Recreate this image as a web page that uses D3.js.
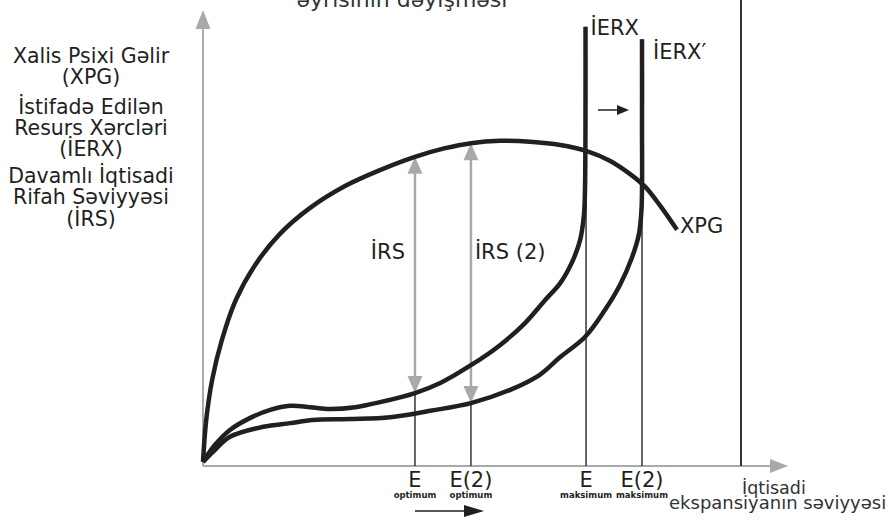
<!DOCTYPE html>
<html>
<head>
<meta charset="utf-8">
<script src="https://cdn.jsdelivr.net/npm/d3@7"></script>
<style>
  body { margin: 0; background: #fff; }
  svg { display: block; font-family: "DejaVu Sans", sans-serif; }
</style>
</head>
<body>
<svg width="894" height="520"></svg>
<script>
// curves, x = level of expansion, y = value (0..10 both)
var xpg = [[0, 0.09], [0.06, 1.01], [0.17, 1.89], [0.35, 2.76], [0.61, 3.64], [0.97, 4.41],
  [1.43, 5.09], [1.99, 5.66], [2.64, 6.14], [3.29, 6.49], [3.94, 6.78], [4.5, 6.97],
  [4.98, 7.08], [5.52, 7.13], [6.08, 7.11], [6.64, 7.04], [7.12, 6.91], [7.57, 6.69],
  [7.94, 6.4], [8.22, 6.12], [8.49, 5.72], [8.81, 5.18]];

var ierx = [[0, 0.09], [0.22, 0.46], [0.5, 0.79], [0.87, 1.05], [1.25, 1.23], [1.62, 1.32],
  [1.99, 1.29], [2.36, 1.25], [2.83, 1.29], [3.29, 1.4], [3.94, 1.6], [4.41, 1.82],
  [4.98, 2.21], [5.52, 2.65], [5.99, 3.14], [6.36, 3.64], [6.64, 4.01], [6.86, 4.47],
  [7.01, 4.96], [7.08, 5.5], [7.1, 6.05], [7.11, 8.0], [7.11, 9.63]];

var ierx2 = [[0, 0.09], [0.22, 0.35], [0.5, 0.64], [1.12, 0.86], [1.62, 0.94], [2.04, 1.01],
  [2.73, 1.03], [3.48, 1.07], [4.22, 1.21], [4.98, 1.38], [5.71, 1.67], [6.26, 2.0],
  [6.64, 2.39], [7.1, 2.83], [7.47, 3.42], [7.75, 3.97], [7.97, 4.56], [8.1, 5.07],
  [8.15, 5.61], [8.16, 7.5], [8.16, 9.36]];

var eLevels = [3.94, 4.98, 7.12, 8.16];
var eMain = ["E", "E(2)", "E", "E(2)"];
var eSub = ["optimum", "optimum", "maksimum", "maksimum"];
var eTop = [1.6, 1.38, 9.63, 9.36];

var irsX = [3.94, 4.98];
var irsTop = [6.78, 7.08];
var irsBottom = [1.6, 1.38];
var irsLabels = ["İRS", "İRS (2)"];

var leftLabels = ["Xalis Psixi Gəlir", "(XPG)", "İstifadə Edilən", "Resurs Xərcləri", "(İERX)",
  "Davamlı İqtisadi", "Rifah Səviyyəsi", "(İRS)"];
var leftBase = [63, 84, 114, 135, 156, 183, 204, 226];

var svg = d3.select("svg");
var ink = "#231f20", grey = "#a7a9ac";

var x = d3.scaleLinear().domain([0, 10]).range([203, 741]);
var y = d3.scaleLinear().domain([0, 10]).range([466, 10]);

var line = d3.line()
  .x(function(d) { return x(d[0]); })
  .y(function(d) { return y(d[1]); })
  .curve(d3.curveCatmullRom.alpha(0.5));

function arrowHead(g, tx, ty, dir, len, wid, color) {
  // dir: angle in radians the arrow points to
  var c = Math.cos(dir), s = Math.sin(dir);
  var bx = tx - c * len, by = ty - s * len;
  var pts = [[tx, ty], [bx - s * wid / 2, by + c * wid / 2], [bx + s * wid / 2, by - c * wid / 2]];
  g.append("path").attr("d", "M" + pts.join("L") + "Z").attr("fill", color);
}

// title remainder, cut at top
svg.append("text").attr("x", 402).attr("y", 7).attr("text-anchor", "middle")
  .attr("font-size", 22).attr("fill", "#333").text("əyrisinin dəyişməsi");

// axes
svg.append("line").attr("x1", x(0)).attr("x2", x(0)).attr("y1", y(0)).attr("y2", 28)
  .attr("stroke", grey).attr("stroke-width", 2);
arrowHead(svg, x(0), 10, -Math.PI / 2, 19, 15, grey);
svg.append("line").attr("x1", x(0)).attr("x2", 772).attr("y1", y(0)).attr("y2", y(0))
  .attr("stroke", grey).attr("stroke-width", 2);
arrowHead(svg, 788, y(0), 0, 18, 14, grey);

// right border line
svg.append("line").attr("x1", x(10)).attr("x2", x(10)).attr("y1", y(0)).attr("y2", 0)
  .attr("stroke", "#333").attr("stroke-width", 2);

// thin level lines
svg.selectAll(".lvl").data(eLevels).enter().append("line")
  .attr("x1", function(d) { return x(d); }).attr("x2", function(d) { return x(d); })
  .attr("y1", y(0)).attr("y2", function(d, i) { return y(eTop[i]); })
  .attr("stroke", "#333").attr("stroke-width", 1.5);

// grey double arrows
irsX.forEach(function(d, i) {
  var g = svg.append("g");
  g.append("line").attr("x1", x(d)).attr("x2", x(d))
    .attr("y1", y(irsBottom[i]) - 14).attr("y2", y(irsTop[i]) + 14)
    .attr("stroke", grey).attr("stroke-width", 2.5);
  arrowHead(g, x(d), y(irsTop[i]), -Math.PI / 2, 17, 15, grey);
  arrowHead(g, x(d), y(irsBottom[i]), Math.PI / 2, 17, 15, grey);
});

// curves
[xpg, ierx, ierx2].forEach(function(c) {
  svg.append("path").datum(c).attr("d", line).attr("fill", "none")
    .attr("stroke", ink).attr("stroke-width", 4.5).attr("stroke-linecap", "butt");
});

// labels on chart
svg.append("text").attr("x", x(7.11) + 5).attr("y", 35).attr("font-size", 21)
  .attr("fill", ink).text("İERX");
svg.append("text").attr("x", x(8.16) + 11).attr("y", 59).attr("font-size", 21)
  .attr("fill", ink).text("İERX′");
svg.append("text").attr("x", x(8.81) + 3).attr("y", 233).attr("font-size", 21)
  .attr("fill", ink).text("XPG");
svg.selectAll(".irs").data(irsLabels).enter().append("text")
  .attr("x", function(d, i) { return i === 0 ? x(irsX[i]) - 10 : x(irsX[i]) + 4; })
  .attr("text-anchor", function(d, i) { return i === 0 ? "end" : "start"; })
  .attr("y", 259).attr("font-size", 21).attr("fill", ink)
  .text(function(d) { return d; });

// shift arrows
var sh = svg.append("g");
sh.append("line").attr("x1", 598).attr("x2", 618).attr("y1", 110).attr("y2", 110)
  .attr("stroke", ink).attr("stroke-width", 1.5);
arrowHead(sh, 629, 110, 0, 12, 10, ink);
sh.append("line").attr("x1", x(eLevels[0])).attr("x2", 466).attr("y1", 511).attr("y2", 511)
  .attr("stroke", ink).attr("stroke-width", 1.5);
arrowHead(sh, 484, 511, 0, 20, 12, ink);

// bottom level labels
svg.selectAll(".em").data(eMain).enter().append("text")
  .attr("x", function(d, i) { return x(eLevels[i]); }).attr("y", 487)
  .attr("text-anchor", "middle").attr("font-size", 21)
  .attr("fill", ink).text(function(d) { return d; });
svg.selectAll(".es").data(eSub).enter().append("text")
  .attr("x", function(d, i) { return x(eLevels[i]); }).attr("y", 498)
  .attr("text-anchor", "middle").attr("font-size", 8.5).attr("font-weight", "bold")
  .attr("fill", ink).text(function(d) { return d; });

// x axis title
svg.append("text").attr("x", 742).attr("y", 494).attr("font-size", 17.5).attr("fill", "#333")
  .text("İqtisadi");
svg.append("text").attr("x", 669).attr("y", 509).attr("font-size", 18).attr("fill", "#333")
  .text("ekspansiyanın səviyyəsi");

// y axis titles
svg.selectAll(".yl").data(leftLabels).enter().append("text")
  .attr("x", 91).attr("y", function(d, i) { return leftBase[i]; })
  .attr("text-anchor", "middle").attr("font-size", 20.5)
  .attr("fill", ink).text(function(d) { return d; });
</script>
</body>
</html>
